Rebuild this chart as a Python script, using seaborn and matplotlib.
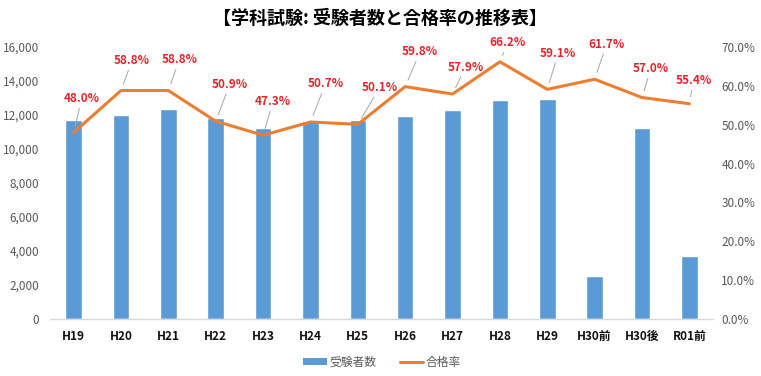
import matplotlib
matplotlib.use("Agg")
import matplotlib.pyplot as plt
import seaborn as sns
import numpy as np
import pandas as pd
from matplotlib.ticker import FuncFormatter
from matplotlib.patches import Patch
from matplotlib.lines import Line2D

# ---- data ----
categories = ["H19", "H20", "H21", "H22", "H23", "H24", "H25", "H26",
              "H27", "H28", "H29", "H30前", "H30後", "R01前"]
examinees = [11700, 12000, 12350, 11840, 11250, 11650, 11700, 11940,
             12300, 12880, 12940, 2530, 11250, 3700]
pass_rate = [48.0, 58.8, 58.8, 50.9, 47.3, 50.7, 50.1, 59.8,
             57.9, 66.2, 59.1, 61.7, 57.0, 55.4]
title = "【学科試験: 受験者数と合格率の推移表】"
bar_label = "受験者数"
line_label = "合格率"

# label offsets (pixels, dx right, dy up)
label_offsets = [(8, 34), (11, 30), (11, 31), (14, 37), (10, 34), (15, 38), (22, 37),
                 (15, 35), (13, 27), (8, 19), (11, 36), (12, 35), (9, 29), (4, 23)]

sns.set_theme(style="white")
plt.rcParams['font.family'] = ['Noto Sans CJK JP', 'DejaVu Sans']

BAR = "#5B9BD5"
LINE = "#ED7D31"
TICK = "#595959"
RED = "#E3262B"

fig = plt.figure(figsize=(7.61, 3.76), dpi=100)
ax = fig.add_axes([50/761, 1-319/376, 663/761, 272/376])

df = pd.DataFrame({"cat": categories, "n": examinees, "rate": pass_rate})
sns.barplot(data=df, x="cat", y="n", color=BAR, width=0.35, saturation=1, ax=ax)
ax.set_xlim(-0.5, len(categories)-0.5)
ax.set_ylim(0, 16000)
ax.set_yticks(np.arange(0, 16001, 2000))
ax.yaxis.set_major_formatter(FuncFormatter(lambda v, p: f"{int(v):,}"))
ax.set_xlabel("")
ax.set_ylabel("")
for s in ["top", "right", "left"]:
    ax.spines[s].set_visible(False)
ax.spines["bottom"].set_color("#D9D9D9")
ax.spines["bottom"].set_linewidth(1)
ax.tick_params(axis="y", length=0, labelsize=8.5, labelcolor=TICK, pad=8)
ax.tick_params(axis="x", length=0, labelsize=8.5, pad=8)
for t in ax.get_xticklabels():
    t.set_fontweight("bold")
    t.set_color("#111111")

ax2 = ax.twinx()
sns.lineplot(x=np.arange(len(categories)), y=np.array(pass_rate)/100, color=LINE,
             linewidth=2.2, ax=ax2)
ax2.set_ylim(0, 0.7)
ax2.set_yticks(np.arange(0, 0.71, 0.1))
ax2.yaxis.set_major_formatter(FuncFormatter(lambda v, p: f"{v*100:.1f}%"))
ax2.tick_params(axis="y", length=0, labelsize=8.5, labelcolor=TICK, pad=6)
for s in ["top", "right", "left", "bottom"]:
    ax2.spines[s].set_visible(False)
ax2.set_ylabel("")

px2pt = 72/100
for i, (r, (dx, dy)) in enumerate(zip(pass_rate, label_offsets)):
    ax2.annotate(f"{r:.1f}%", xy=(i, r/100), xytext=(dx*px2pt, dy*px2pt),
                 textcoords="offset points", ha="center", va="center",
                 fontsize=8.5, fontweight="bold", color=RED,
                 arrowprops=dict(arrowstyle="-", color="#A6A6A6", lw=0.7,
                                 shrinkA=0, shrinkB=5))

fig.text(380/761, 1-18/376, title, ha="center", va="center",
         fontsize=13, fontweight="bold", color="#000000")

handles = [Patch(facecolor=BAR, edgecolor="none"),
           Line2D([0], [0], color=LINE, lw=2.2)]
leg = fig.legend(handles, [bar_label, line_label], loc="center",
                 bbox_to_anchor=(382/761, 1-362/376), ncol=2, frameon=False,
                 fontsize=8.5, handlelength=2.0, handleheight=0.6,
                 columnspacing=2.0, handletextpad=0.2)
for t in leg.get_texts():
    t.set_color(TICK)

fig.savefig("out.png", dpi=100)
